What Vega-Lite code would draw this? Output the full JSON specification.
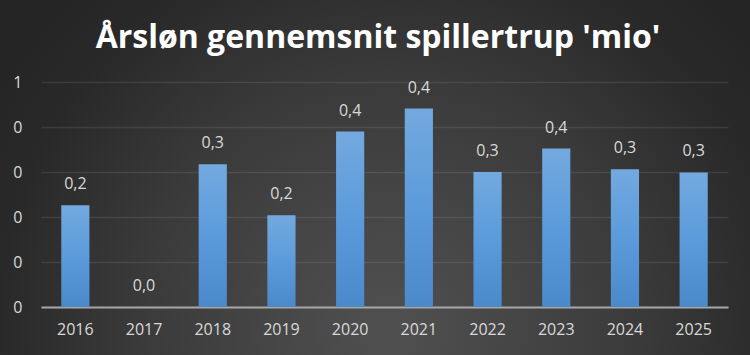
{
  "$schema": "https://vega.github.io/schema/vega-lite/v6.json",
  "autosize": "none",
  "width": 750,
  "height": 355,
  "padding": 0,
  "background": "#262626",
  "title": {
    "text": "Årsløn gennemsnit spillertrup 'mio'",
    "font": "Open Sans",
    "fontSize": 32,
    "fontWeight": "bold",
    "color": "#ffffff",
    "anchor": "middle",
    "baseline": "alphabetic",
    "dx": 3,
    "dy": 33,
    "offset": -47
  },
  "data": {
    "values": [
      {"year": "2016", "value": 0.226},
      {"year": "2017", "value": 0.0},
      {"year": "2018", "value": 0.317},
      {"year": "2019", "value": 0.204},
      {"year": "2020", "value": 0.39},
      {"year": "2021", "value": 0.441},
      {"year": "2022", "value": 0.3},
      {"year": "2023", "value": 0.352},
      {"year": "2024", "value": 0.306},
      {"year": "2025", "value": 0.299}
    ]
  },
  "encoding": {
    "x": {
      "field": "year",
      "type": "ordinal",
      "title": null,
      "scale": {"range": [41, 728], "paddingInner": 0.59, "paddingOuter": 0.295},
      "axis": {
        "offset": -48,
        "labelAngle": 0,
        "labelFont": "Open Sans",
        "labelFontSize": 16,
        "labelColor": "#d9d9d9",
        "labelPadding": 14,
        "ticks": false,
        "domain": true,
        "domainColor": "#a6a6a6",
        "domainWidth": 2,
        "grid": false
      }
    },
    "y": {
      "field": "value",
      "type": "quantitative",
      "title": null,
      "scale": {"domain": [0, 0.5], "range": [307, 82], "nice": false},
      "axis": {
        "offset": -41,
        "values": [0, 0.1, 0.2, 0.3, 0.4, 0.5],
        "format": ".0f",
        "labelFont": "Open Sans",
        "labelFontSize": 16,
        "labelColor": "#d9d9d9",
        "labelPadding": 19,
        "ticks": false,
        "domain": false,
        "grid": true,
        "gridColor": "#ffffff",
        "gridOpacity": 0.09,
        "gridWidth": 1.5
      }
    }
  },
  "layer": [
    {
      "mark": {
        "type": "bar",
        "color": {
          "gradient": "linear",
          "x1": 0, "y1": 0, "x2": 0, "y2": 1,
          "stops": [
            {"offset": 0, "color": "#73a9df"},
            {"offset": 0.5, "color": "#5b9bdb"},
            {"offset": 1, "color": "#4a89ca"}
          ]
        }
      }
    },
    {
      "mark": {
        "type": "text",
        "font": "Open Sans",
        "fontSize": 16,
        "color": "#d9d9d9",
        "baseline": "middle",
        "dy": -21
      },
      "encoding": {
        "text": {"field": "value", "type": "quantitative", "format": ".1f"}
      }
    }
  ],
  "config": {
    "locale": {
      "number": {"decimal": ",", "thousands": ".", "grouping": [3], "currency": ["", " kr."]}
    },
    "view": {
      "stroke": null,
      "fill": {
        "gradient": "radial",
        "x1": 0.52, "y1": 0.7, "r1": 0,
        "x2": 0.52, "y2": 0.7, "r2": 0.62,
        "stops": [
          {"offset": 0, "color": "#505050"},
          {"offset": 0.23, "color": "#474747"},
          {"offset": 0.54, "color": "#3a3a3a"},
          {"offset": 0.84, "color": "#292929"},
          {"offset": 1, "color": "#252525"}
        ]
      }
    }
  }
}
